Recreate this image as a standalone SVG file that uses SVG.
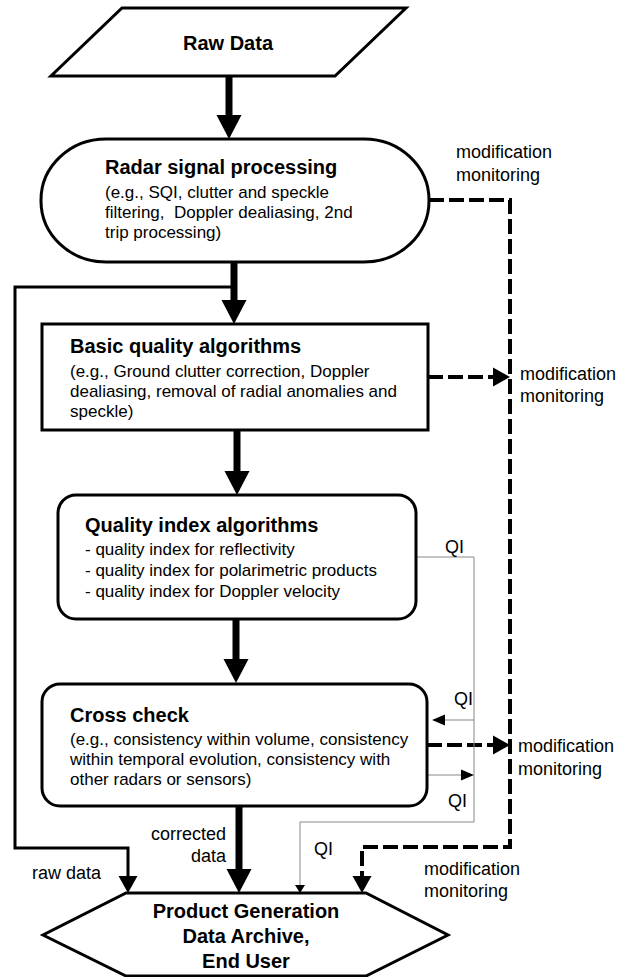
<svg xmlns="http://www.w3.org/2000/svg" width="628" height="977" viewBox="0 0 628 977">
<style>
.t{font-family:"Liberation Sans",Arial,Helvetica,sans-serif;fill:#000}
.b{font-weight:bold;font-size:20px}
.n{font-size:17px}
.l{font-size:18px}
.shape{fill:#fff;stroke:#000;stroke-width:3}
.thick{stroke:#000;stroke-width:7;fill:none}
.med{stroke:#000;stroke-width:3;fill:none}
.dash{stroke:#000;stroke-width:4;stroke-dasharray:15 5;fill:none}
.qi{stroke:#888;stroke-width:1;fill:none}
</style>
<defs>
<marker id="hThick" markerUnits="userSpaceOnUse" orient="auto" markerWidth="24" markerHeight="25" refX="0" refY="12.5" overflow="visible"><path d="M0,0 L24,12.5 L0,25 z" fill="#000"/></marker>
<marker id="hMed" markerUnits="userSpaceOnUse" orient="auto" markerWidth="17" markerHeight="19" refX="0" refY="9.5" overflow="visible"><path d="M0,0 L17,9.5 L0,19 z" fill="#000"/></marker>
<marker id="hQi" markerUnits="userSpaceOnUse" orient="auto" markerWidth="13" markerHeight="11" refX="0" refY="5.5" overflow="visible"><path d="M0,0 L13,5.5 L0,11 z" fill="#000"/></marker>
<marker id="hTiny" markerUnits="userSpaceOnUse" orient="auto" markerWidth="8" markerHeight="10" refX="0" refY="5" overflow="visible"><path d="M0,0 L8,5 L0,10 z" fill="#000"/></marker>
</defs>
<rect width="628" height="977" fill="#fff"/>

<g id="connectors">
<line class="thick" x1="229" y1="76" x2="229" y2="115" marker-end="url(#hThick)"/>
<line class="thick" x1="234" y1="262" x2="234" y2="300" marker-end="url(#hThick)"/>
<path class="med" d="M234,287 H15 V848 H128 V876" marker-end="url(#hMed)"/>
<line class="thick" x1="237" y1="430" x2="237" y2="471" marker-end="url(#hThick)"/>
<line class="thick" x1="236" y1="619" x2="236" y2="659" marker-end="url(#hThick)"/>
<line class="thick" x1="239" y1="806" x2="239" y2="869" marker-end="url(#hThick)"/>
<path class="dash" d="M429,200 H510 V847 H362 V876" marker-end="url(#hMed)"/>
<path class="dash" d="M428,377 H493" marker-end="url(#hMed)"/>
<path class="dash" d="M427,745 H493" marker-end="url(#hMed)"/>
<path class="qi" d="M416,557 H474 V822 H300 V885" marker-end="url(#hTiny)"/>
<path class="qi" d="M474,720 H445" marker-end="url(#hQi)"/>
<path class="qi" d="M427,775 H461" marker-end="url(#hQi)"/>
</g>

<g id="raw-data">
<polygon class="shape" points="122,8 406,8 335,76 51,76"/>
<text class="t b" x="228" y="50" text-anchor="middle">Raw Data</text>
</g>

<g id="radar-signal-processing">
<rect class="shape" x="41" y="139" width="388" height="123" rx="65" ry="61"/>
<text class="t b" x="105" y="174">Radar signal processing</text>
<text class="t n" x="105" y="198">(e.g., SQI, clutter and speckle</text>
<text class="t n" x="105" y="218" xml:space="preserve">filtering,  Doppler dealiasing, 2nd</text>
<text class="t n" x="105" y="238">trip processing)</text>
</g>

<g id="basic-quality">
<rect class="shape" x="42" y="324" width="386" height="106"/>
<text class="t b" x="70" y="353">Basic quality algorithms</text>
<text class="t n" x="70" y="377">(e.g., Ground clutter correction, Doppler</text>
<text class="t n" x="70" y="397">dealiasing, removal of radial anomalies and</text>
<text class="t n" x="70" y="417">speckle)</text>
</g>

<g id="quality-index">
<rect class="shape" x="58" y="495" width="358" height="124" rx="18" ry="18"/>
<text class="t b" x="85" y="532">Quality index algorithms</text>
<text class="t n" x="85" y="555">- quality index for reflectivity</text>
<text class="t n" x="85" y="576">- quality index for polarimetric products</text>
<text class="t n" x="85" y="597">- quality index for Doppler velocity</text>
</g>

<g id="cross-check">
<rect class="shape" x="42" y="684" width="385" height="122" rx="18" ry="18"/>
<text class="t b" x="70" y="722">Cross check</text>
<text class="t n" x="70" y="745">(e.g., consistency within volume, consistency</text>
<text class="t n" x="70" y="765">within temporal evolution, consistency with</text>
<text class="t n" x="70" y="785">other radars or sensors)</text>
</g>

<g id="product-generation">
<polygon class="shape" points="126,893 366,893 448,935 366,976 126,976 43,935"/>
<text class="t b" x="246" y="918" text-anchor="middle">Product Generation</text>
<text class="t b" x="246" y="943" text-anchor="middle">Data Archive,</text>
<text class="t b" x="246" y="968" text-anchor="middle">End User</text>
</g>

<g id="labels">
<text class="t l" x="456" y="158">modification</text>
<text class="t l" x="456" y="181">monitoring</text>
<text class="t l" x="520" y="380">modification</text>
<text class="t l" x="520" y="402">monitoring</text>
<text class="t l" x="518" y="752">modification</text>
<text class="t l" x="518" y="775">monitoring</text>
<text class="t l" x="424" y="875">modification</text>
<text class="t l" x="424" y="897">monitoring</text>
<text class="t l" x="445" y="553">QI</text>
<text class="t l" x="454" y="705">QI</text>
<text class="t l" x="448" y="807">QI</text>
<text class="t l" x="314" y="855">QI</text>
<text class="t l" x="226" y="840" text-anchor="end">corrected</text>
<text class="t l" x="226" y="862" text-anchor="end">data</text>
<text class="t l" x="32" y="879">raw data</text>
</g>
</svg>
